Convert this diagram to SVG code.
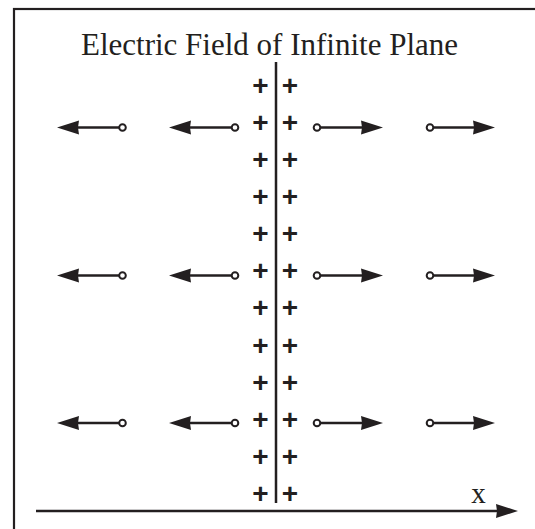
<svg xmlns="http://www.w3.org/2000/svg" width="535" height="529" viewBox="0 0 535 529">
<style>
.plus{font-family:"Liberation Sans",Arial,sans-serif;font-weight:bold;font-size:28px;text-anchor:middle;fill:#231f20}
.ln{stroke:#231f20;stroke-width:2.5;fill:none}
.dot{stroke:#231f20;stroke-width:2;fill:#fff}
.head{fill:#231f20}
.serif{font-family:"Liberation Serif","Times New Roman",serif;fill:#231f20}
</style>
<defs>
<path id="hr" class="head" d="M0,0 L-22,-7 L-21,0 L-22,7 Z"/>
<path id="hl" class="head" d="M0,0 L22,-7 L21,0 L22,7 Z"/>
</defs>
<rect x="14" y="9" width="540" height="540" fill="#fff" stroke="#231f20" stroke-width="2.2"/>
<text class="serif" x="269.5" y="55" font-size="31" text-anchor="middle">Electric Field of Infinite Plane</text>
<g id="plane">
<line class="ln" x1="276" y1="62" x2="276" y2="503"/>
</g>
<g id="charges">
<text class="plus" x="260.5" y="94.8">+</text><text class="plus" x="290" y="94.8">+</text>
<text class="plus" x="260.5" y="131.9">+</text><text class="plus" x="290" y="131.9">+</text>
<text class="plus" x="260.5" y="169">+</text><text class="plus" x="290" y="169">+</text>
<text class="plus" x="260.5" y="206.1">+</text><text class="plus" x="290" y="206.1">+</text>
<text class="plus" x="260.5" y="243.2">+</text><text class="plus" x="290" y="243.2">+</text>
<text class="plus" x="260.5" y="280.3">+</text><text class="plus" x="290" y="280.3">+</text>
<text class="plus" x="260.5" y="317.4">+</text><text class="plus" x="290" y="317.4">+</text>
<text class="plus" x="260.5" y="354.5">+</text><text class="plus" x="290" y="354.5">+</text>
<text class="plus" x="260.5" y="391.6">+</text><text class="plus" x="290" y="391.6">+</text>
<text class="plus" x="260.5" y="428.7">+</text><text class="plus" x="290" y="428.7">+</text>
<text class="plus" x="260.5" y="465.8">+</text><text class="plus" x="290" y="465.8">+</text>
<text class="plus" x="260.5" y="502.9">+</text><text class="plus" x="290" y="502.9">+</text>
</g>
<g id="connectors">
<line class="ln" x1="119" y1="127.5" x2="70" y2="127.5"/><use href="#hl" x="57" y="127.5"/>
<line class="ln" x1="231.5" y1="127.5" x2="182" y2="127.5"/><use href="#hl" x="169" y="127.5"/>
<line class="ln" x1="320.5" y1="127.5" x2="370" y2="127.5"/><use href="#hr" x="383" y="127.5"/>
<line class="ln" x1="433.5" y1="127.5" x2="482" y2="127.5"/><use href="#hr" x="495" y="127.5"/>
<line class="ln" x1="119" y1="275.5" x2="70" y2="275.5"/><use href="#hl" x="57" y="275.5"/>
<line class="ln" x1="231.5" y1="275.5" x2="182" y2="275.5"/><use href="#hl" x="169" y="275.5"/>
<line class="ln" x1="320.5" y1="275.5" x2="370" y2="275.5"/><use href="#hr" x="383" y="275.5"/>
<line class="ln" x1="433.5" y1="275.5" x2="482" y2="275.5"/><use href="#hr" x="495" y="275.5"/>
<line class="ln" x1="119" y1="423" x2="70" y2="423"/><use href="#hl" x="57" y="423"/>
<line class="ln" x1="231.5" y1="423" x2="182" y2="423"/><use href="#hl" x="169" y="423"/>
<line class="ln" x1="320.5" y1="423" x2="370" y2="423"/><use href="#hr" x="383" y="423"/>
<line class="ln" x1="433.5" y1="423" x2="482" y2="423"/><use href="#hr" x="495" y="423"/>
<line class="ln" x1="36" y1="511" x2="505" y2="511"/><use href="#hr" x="518" y="511"/>
</g>
<g id="points">
<circle class="dot" cx="122.5" cy="127.5" r="3.3"/>
<circle class="dot" cx="235" cy="127.5" r="3.3"/>
<circle class="dot" cx="317" cy="127.5" r="3.3"/>
<circle class="dot" cx="430" cy="127.5" r="3.3"/>
<circle class="dot" cx="122.5" cy="275.5" r="3.3"/>
<circle class="dot" cx="235" cy="275.5" r="3.3"/>
<circle class="dot" cx="317" cy="275.5" r="3.3"/>
<circle class="dot" cx="430" cy="275.5" r="3.3"/>
<circle class="dot" cx="122.5" cy="423" r="3.3"/>
<circle class="dot" cx="235" cy="423" r="3.3"/>
<circle class="dot" cx="317" cy="423" r="3.3"/>
<circle class="dot" cx="430" cy="423" r="3.3"/>
</g>
<text class="serif" x="478.5" y="503" font-size="29" text-anchor="middle">x</text>
</svg>
